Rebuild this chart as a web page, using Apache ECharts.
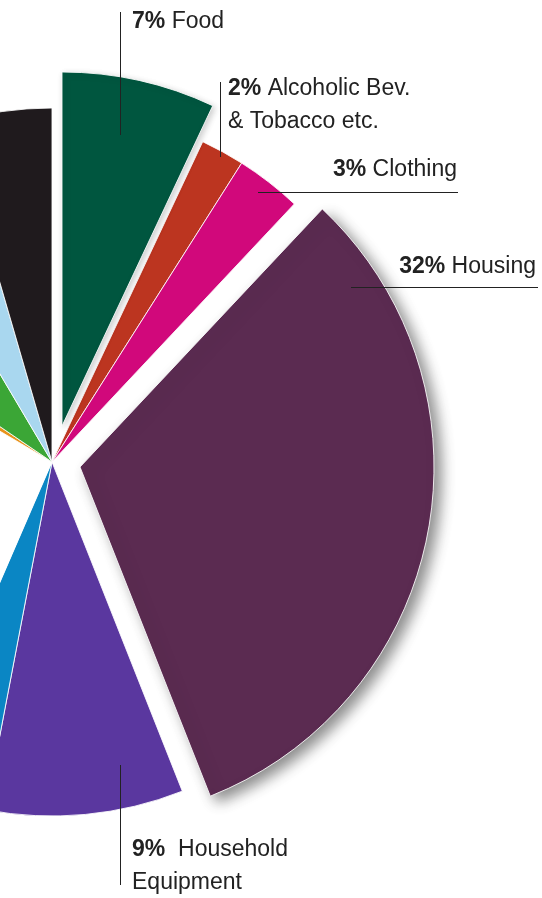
<!DOCTYPE html>
<html>
<head>
<meta charset="utf-8">
<script src="https://cdn.jsdelivr.net/npm/echarts@6/dist/echarts.min.js"></script>
<style>
html,body{margin:0;padding:0;background:#fff;}
#chart{width:542px;height:898px;}
</style>
</head>
<body>
<div id="chart"></div>
<script>
// ---- data ----
const categories = [
  'Food',
  'Alcoholic Bev.\n& Tobacco etc.',
  'Clothing',
  'Housing',
  'Household\nEquipment',
  'Unlabelled (blue)',
  'Unlabelled (white)',
  'Unlabelled (orange)',
  'Unlabelled (green)',
  'Unlabelled (light blue)',
  'Unlabelled (black)'
];
const shares = [7, 2, 3, 32, 9, 3.5, 27, 1, 7, 4, 4.5];
const showLabel = [true, true, true, true, true, false, false, false, false, false, false];

// ---- styles / layout ----
const colors = ['#00563f', '#bc3520', '#d1087b', '#5b2b51', '#5a379f', '#0a86c4',
                '#ffffff', '#e8921c', '#3ba636', '#a9d7ef', '#1f1a1d'];
const labelSpots = {
  'Food': {x: 132, y: 22, align: 'left', gap: ' ', line: [[120.5, 12], [120.5, 135]]},
  'Alcoholic Bev.\n& Tobacco etc.': {x: 228, y: 105, align: 'left', gap: ' ', line: [[220.5, 82], [220.5, 157]]},
  'Clothing': {x: 457, y: 170, align: 'right', gap: ' ', line: [[258, 192.5], [458, 192.5]]},
  'Housing': {x: 536, y: 267, align: 'right', gap: ' ', line: [[351, 287.5], [538, 287.5]]},
  'Household\nEquipment': {x: 132, y: 866, align: 'left', gap: '  ', line: [[120.5, 765], [120.5, 885]]}
};
const radius = 354;
const mainCenter = [52, 462];
// pulled-out slices are drawn from shifted centres
const pulled = {
  'Food': [62, 426],
  'Housing': [80, 467]
};

function fmt(p) {
  const lines = p.name.split('\n');
  const gap = labelSpots[p.name] ? labelSpots[p.name].gap : ' ';
  let s = '{p|' + p.value + '%}' + '{n|' + gap + lines[0] + '}';
  for (let i = 1; i < lines.length; i++) s += '\n{n|' + lines[i] + '}';
  return s;
}
const richText = {
  p: {fontFamily: 'Liberation Sans', fontWeight: 'bold', fontSize: 23, color: '#222', lineHeight: 33},
  n: {fontFamily: 'Liberation Sans', fontSize: 23, color: '#222', lineHeight: 33}
};
function layout(params) {
  const s = labelSpots[categories[params.dataIndex]];
  if (!s) return {};
  return {x: s.x, y: s.y, align: s.align, verticalAlign: 'middle'};
}

// which slices each pie series draws
function seriesFor(filter, c, extraStyle) {
  const data = categories.map((name, i) => {
    const visible = filter(name);
    let it;
    if (visible) {
      it = Object.assign({color: colors[i], borderColor: 'rgba(255,255,255,0.85)',
                          borderWidth: colors[i] === '#ffffff' ? 0 : 1}, extraStyle || {});
    } else {
      it = {color: 'rgba(0,0,0,0)', borderWidth: 0};
    }
    const lab = visible && showLabel[i];
    return {name: name, value: shares[i], itemStyle: it, label: {show: lab}};
  });
  return {
    type: 'pie',
    center: c,
    radius: radius,
    startAngle: 90,
    clockwise: true,
    avoidLabelOverlap: false,
    animation: false,
    silent: true,
    label: {position: 'outside', formatter: fmt, rich: richText, alignTo: 'none'},
    labelLine: {show: false},
    labelLayout: layout,
    data: data
  };
}

const series = [
  seriesFor(n => !(n in pulled), mainCenter),
  seriesFor(n => n === 'Food', pulled['Food'],
            {shadowBlur: 6, shadowOffsetX: 2, shadowOffsetY: 2, shadowColor: 'rgba(0,0,0,0.2)'}),
  seriesFor(n => n === 'Housing', pulled['Housing'],
            {shadowBlur: 14, shadowOffsetX: 7, shadowOffsetY: 6, shadowColor: 'rgba(0,0,0,0.45)'})
];

const leaderLines = Object.keys(labelSpots).map(k => ({
  type: 'polyline', z: 100, silent: true,
  shape: {points: labelSpots[k].line},
  style: {stroke: '#222', lineWidth: 1, fill: null}
}));

const chart = echarts.init(document.getElementById('chart'), null, {renderer: 'canvas'});
chart.setOption({
  animation: false,
  backgroundColor: '#ffffff',
  series: series,
  graphic: leaderLines
});
</script>
</body>
</html>
